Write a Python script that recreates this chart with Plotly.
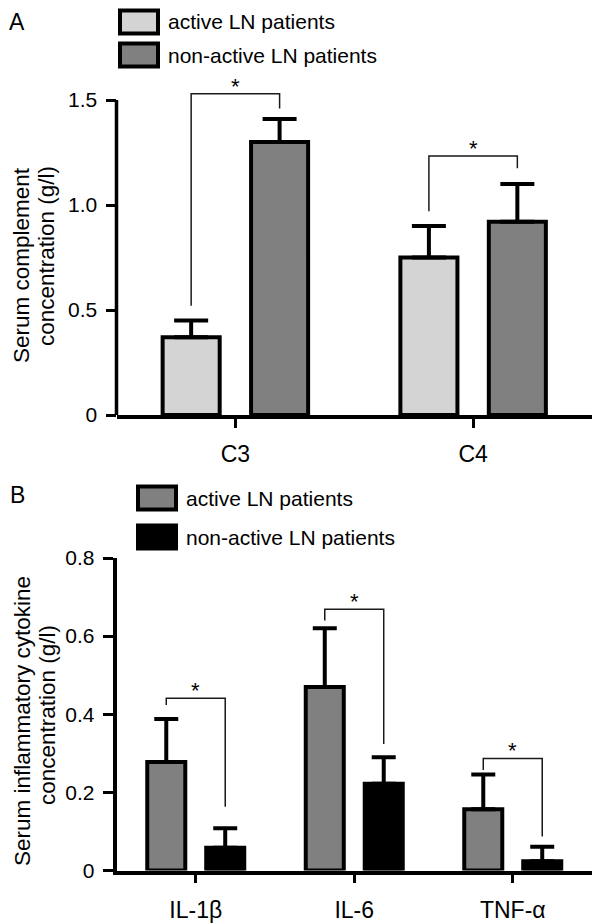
import plotly.graph_objects as go

# ---------------- data ----------------
A_CATS = ["C3", "C4"]
A_ACTIVE = [0.37, 0.75]
A_ACTIVE_ERR = [0.08, 0.15]
A_NONACTIVE = [1.30, 0.92]
A_NONACTIVE_ERR = [0.11, 0.18]
A_YTICKS = [0, 0.5, 1.0, 1.5]
A_YTICKTEXT = ["0", "0.5", "1.0", "1.5"]
A_BR_LEFT = [0.52, 0.97]    # bottom of left bracket leg
A_BR_TOP = [1.53, 1.233]    # bracket bar height
A_BR_RIGHT = [1.46, 1.175]  # bottom of right bracket leg
A_TITLE = ["Serum complement", "concentration (g/l)"]

B_CATS = ["IL-1β", "IL-6", "TNF-α"]
B_ACTIVE = [0.278, 0.470, 0.157]
B_ACTIVE_ERR = [0.11, 0.15, 0.089]
B_NONACTIVE = [0.058, 0.222, 0.024]
B_NONACTIVE_ERR = [0.05, 0.068, 0.037]
B_YTICKS = [0, 0.2, 0.4, 0.6, 0.8]
B_YTICKTEXT = ["0", "0.2", "0.4", "0.6", "0.8"]
B_BR_LEFT = [0.424, 0.640, 0.257]
B_BR_TOP = [0.441, 0.669, 0.287]
B_BR_RIGHT = [0.163, 0.324, 0.087]
B_TITLE = ["Serum inflammatory cytokine", "concentration (g/l)"]

SERIES = ["active LN patients", "non-active LN patients"]
A_COLORS = ["#d4d4d4", "#808080"]
B_COLORS = ["#808080", "#000000"]

FONT = "Liberation Sans, Arial, sans-serif"
PAGE_PAD = 8                      # default page margin around the figure
W, H = 600 - PAGE_PAD, 924 - PAGE_PAD
BARGAP = 0.256
BARGROUPGAP = 0.355
SHIFT = (1 - BARGAP) / 4  # offset of each bar centre from category centre


def px(x):
    return (x - PAGE_PAD) / W


def py(y):
    return 1 - (y - PAGE_PAD) / H


X_DOMAIN = [px(116.5), px(592)]
A_DOMAIN = [py(415), py(87.4)]
B_DOMAIN = [py(870.5), py(558)]
A_RANGE = [0, 1.56]
B_RANGE = [0, 0.8]

fig = go.Figure()


def add_bars(cats, vals_list, errs_list, colors, xa, ya, capw):
    xs = list(range(len(cats)))
    for vals, errs, col in zip(vals_list, errs_list, colors):
        fig.add_trace(go.Bar(
            x=xs, y=vals, xaxis=xa, yaxis=ya,
            marker=dict(color=col, line=dict(color="black", width=4)),
            error_y=dict(type="data", symmetric=False, array=errs,
                         arrayminus=[0] * len(errs), color="black",
                         thickness=4, width=capw),
            showlegend=False, hoverinfo="skip",
        ))


add_bars(A_CATS, [A_ACTIVE, A_NONACTIVE], [A_ACTIVE_ERR, A_NONACTIVE_ERR],
         A_COLORS, "x", "y", 17)
add_bars(B_CATS, [B_ACTIVE, B_NONACTIVE], [B_ACTIVE_ERR, B_NONACTIVE_ERR],
         B_COLORS, "x2", "y2", 12)

shapes = []
annotations = []


def add_brackets(n, left, top, right, xref, yref):
    for i in range(n):
        x0, x1 = i - SHIFT, i + SHIFT
        shapes.append(dict(
            type="path", xref=xref, yref=yref,
            path=f"M {x0},{left[i]} L {x0},{top[i]} L {x1},{top[i]} L {x1},{right[i]}",
            line=dict(color="#1a1a1a", width=1.5),
        ))
        annotations.append(dict(
            x=i, y=top[i], xref=xref, yref=yref, text="*", showarrow=False,
            xanchor="center", yanchor="bottom", yshift=-7,
            font=dict(size=22, color="black", family=FONT),
        ))


add_brackets(len(A_CATS), A_BR_LEFT, A_BR_TOP, A_BR_RIGHT, "x", "y")
add_brackets(len(B_CATS), B_BR_LEFT, B_BR_TOP, B_BR_RIGHT, "x2", "y2")

# y-axis line for panel A stops at the top tick
shapes.append(dict(type="line", xref="paper", yref="y", x0=X_DOMAIN[0], x1=X_DOMAIN[0],
                   y0=A_YTICKS[0], y1=A_YTICKS[-1], line=dict(color="black", width=3.5)))


# legends drawn manually
def add_legend(x_px, y_px_list, colors, box_w, box_h):
    for yc, col, name in zip(y_px_list, colors, SERIES):
        shapes.append(dict(type="rect", xref="paper", yref="paper",
                           x0=px(x_px), x1=px(x_px + box_w),
                           y0=py(yc - box_h / 2), y1=py(yc + box_h / 2),
                           fillcolor=col, line=dict(color="black", width=4)))
        annotations.append(dict(x=px(x_px + box_w + 8), y=py(yc), xref="paper", yref="paper",
                                text=name, showarrow=False, xanchor="left", yanchor="middle",
                                font=dict(size=21, color="black", family=FONT)))


add_legend(120, [22, 55], A_COLORS, 38, 23)
add_legend(138, [498, 537], B_COLORS, 38, 23)

# panel letters
annotations.append(dict(x=px(17), y=1, xref="paper", yref="paper", text="A",
                        xanchor="center", yanchor="top", showarrow=False, borderpad=0,
                        font=dict(size=23, color="black", family=FONT)))
annotations.append(dict(x=px(17), y=py(495), xref="paper", yref="paper", text="B",
                        xanchor="center", yanchor="middle", showarrow=False,
                        font=dict(size=23, color="black", family=FONT)))

# y-axis titles, one annotation per line
for lines, ycs in ((A_TITLE, (265, 256)), (B_TITLE, (721, 715))):
    for txt, xc, yc in zip(lines, (22, 47), ycs):
        annotations.append(dict(x=px(xc), y=py(yc), xref="paper", yref="paper",
                                text=txt, textangle=-90, xanchor="center", yanchor="middle",
                                showarrow=False, font=dict(size=22.5, color="black", family=FONT)))

xcommon = dict(showline=True, linewidth=3.5, linecolor="black", ticks="outside",
               ticklen=9, tickwidth=3, tickcolor="black", showgrid=False, zeroline=False,
               domain=X_DOMAIN, tickfont=dict(size=23, color="black", family=FONT),
               ticklabelstandoff=7, automargin=False)
ycommon = dict(ticks="outside", ticklen=10, tickwidth=3, tickcolor="black",
               showgrid=False, zeroline=False, automargin=False,
               tickfont=dict(size=21, color="black", family=FONT), ticklabelstandoff=4)

fig.update_layout(
    width=W, height=H, margin=dict(l=0, r=0, t=0, b=0, autoexpand=False),
    paper_bgcolor="white", plot_bgcolor="white",
    barmode="group", bargap=BARGAP, bargroupgap=BARGROUPGAP, showlegend=False,
    xaxis=dict(**xcommon, anchor="y", range=[-0.5, 1.5],
               tickvals=list(range(len(A_CATS))), ticktext=A_CATS),
    yaxis=dict(**ycommon, anchor="x", domain=A_DOMAIN, range=A_RANGE, showline=False,
               tickvals=A_YTICKS, ticktext=A_YTICKTEXT),
    xaxis2=dict(**xcommon, anchor="y2", range=[-0.5, 2.5],
                tickvals=list(range(len(B_CATS))), ticktext=B_CATS),
    yaxis2=dict(**ycommon, anchor="x2", domain=B_DOMAIN, range=B_RANGE,
                showline=True, linewidth=3.5, linecolor="black",
                tickvals=B_YTICKS, ticktext=B_YTICKTEXT),
    shapes=shapes, annotations=annotations,
    font=dict(family=FONT, color="black"),
)

fig.write_html("out.html")
